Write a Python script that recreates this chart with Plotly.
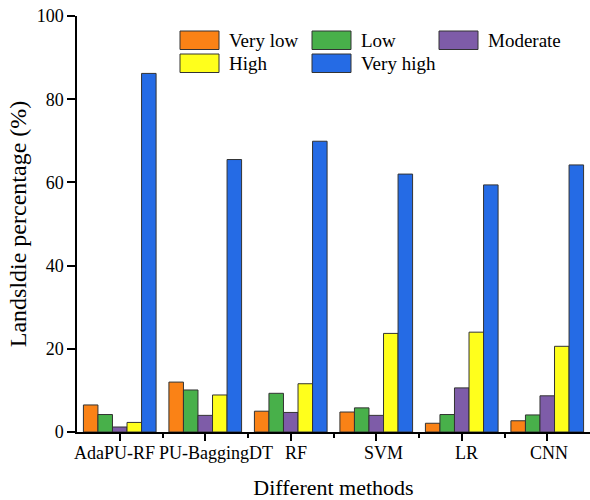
import plotly.graph_objects as go

methods = ["AdaPU-RF", "PU-BaggingDT", "RF", "SVM", "LR", "CNN"]
series_names = ["Very low", "Low", "Moderate", "High", "Very high"]
very_low = [6.5, 12.0, 5.0, 4.8, 2.1, 2.7]
low = [4.2, 10.1, 9.3, 5.8, 4.2, 4.1]
moderate = [1.2, 4.0, 4.7, 4.0, 10.6, 8.7]
high = [2.3, 8.9, 11.6, 23.7, 24.0, 20.6]
very_high = [86.2, 65.5, 69.9, 62.0, 59.4, 64.2]
y_ticks = [0, 20, 40, 60, 80, 100]

series_values = [very_low, low, moderate, high, very_high]
colors = ["#FA8216", "#48B04A", "#7E5CA8", "#FFFF1C", "#256BE5"]

W, H = 590, 500
L, R, T, B = 77, 0, 16, 68
pw, ph = W - L - R, H - T - B

def px(x):
    return (x - L) / pw

def py(y):
    return (H - B - y) / ph

FONT = "Times New Roman, Liberation Serif, serif"
# horizontal offsets (px) of the category labels, as in the reference
label_shift = [-5, 11, 5, 7, 5, 2]

fig = go.Figure()
xs = list(range(len(methods)))
for name, vals, c in zip(series_names, series_values, colors):
    fig.add_trace(go.Bar(x=xs, y=vals, name=name, marker=dict(color=c, line=dict(color="#333333", width=1)),
                         showlegend=False))

# custom legend (large swatches like the reference)
leg_pos = [(180, 31), (312, 31), (439, 31), (180, 54), (312, 54)]
shapes = []
annots = []
for (lx, ly), name, c in zip(leg_pos, series_names, colors):
    shapes.append(dict(type="rect", xref="paper", yref="paper", x0=px(lx), x1=px(lx + 39),
                       y0=py(ly + 18.5), y1=py(ly), fillcolor=c, line=dict(color="#333333", width=1)))
    annots.append(dict(xref="paper", yref="paper", x=px(lx + 47), y=py(ly + 9.5), text=name,
                       showarrow=False, xanchor="left", yanchor="middle",
                       font=dict(family=FONT, size=19, color="black")))

# category labels on the x axis
for i, (m, s) in enumerate(zip(methods, label_shift)):
    annots.append(dict(xref="x", yref="paper", x=i, y=0, text=m, showarrow=False,
                       xanchor="center", yanchor="top", xshift=s, yshift=-9,
                       font=dict(family=FONT, size=18, color="black")))

fig.update_layout(
    width=W, height=H,
    margin=dict(l=L, r=R, t=T, b=B),
    paper_bgcolor="white", plot_bgcolor="white",
    barmode="group", bargap=0.15, bargroupgap=0,
    shapes=shapes, annotations=annots,
    font=dict(family=FONT, size=18, color="black"),
)
fig.update_xaxes(
    range=[-0.5, len(methods) - 0.5], tickmode="array", tickvals=xs, ticktext=methods,
    showticklabels=False, automargin=False,
    showline=True, linecolor="black", linewidth=1.5, ticks="outside", ticklen=7, tickwidth=1.5,
    tickcolor="black", showgrid=False, zeroline=False,
    minor=dict(ticks="outside", tickmode="array", tickvals=[i + 0.5 for i in xs[:-1]], ticklen=4,
               tickwidth=1.5, tickcolor="black", showgrid=False),
    title=dict(text="Different methods", font=dict(family=FONT, size=22), standoff=40),
)
fig.update_yaxes(
    range=[0, 100], tickmode="array", tickvals=y_ticks, automargin=False,
    showline=True, linecolor="black", linewidth=1.5, ticks="outside", ticklen=8, tickwidth=1.5,
    tickcolor="black", showgrid=False, zeroline=False,
    title=dict(text="Landsldie percentage (%)", font=dict(family=FONT, size=24), standoff=3),
    tickfont=dict(family=FONT, size=18),
)
fig.write_html("out.html")
